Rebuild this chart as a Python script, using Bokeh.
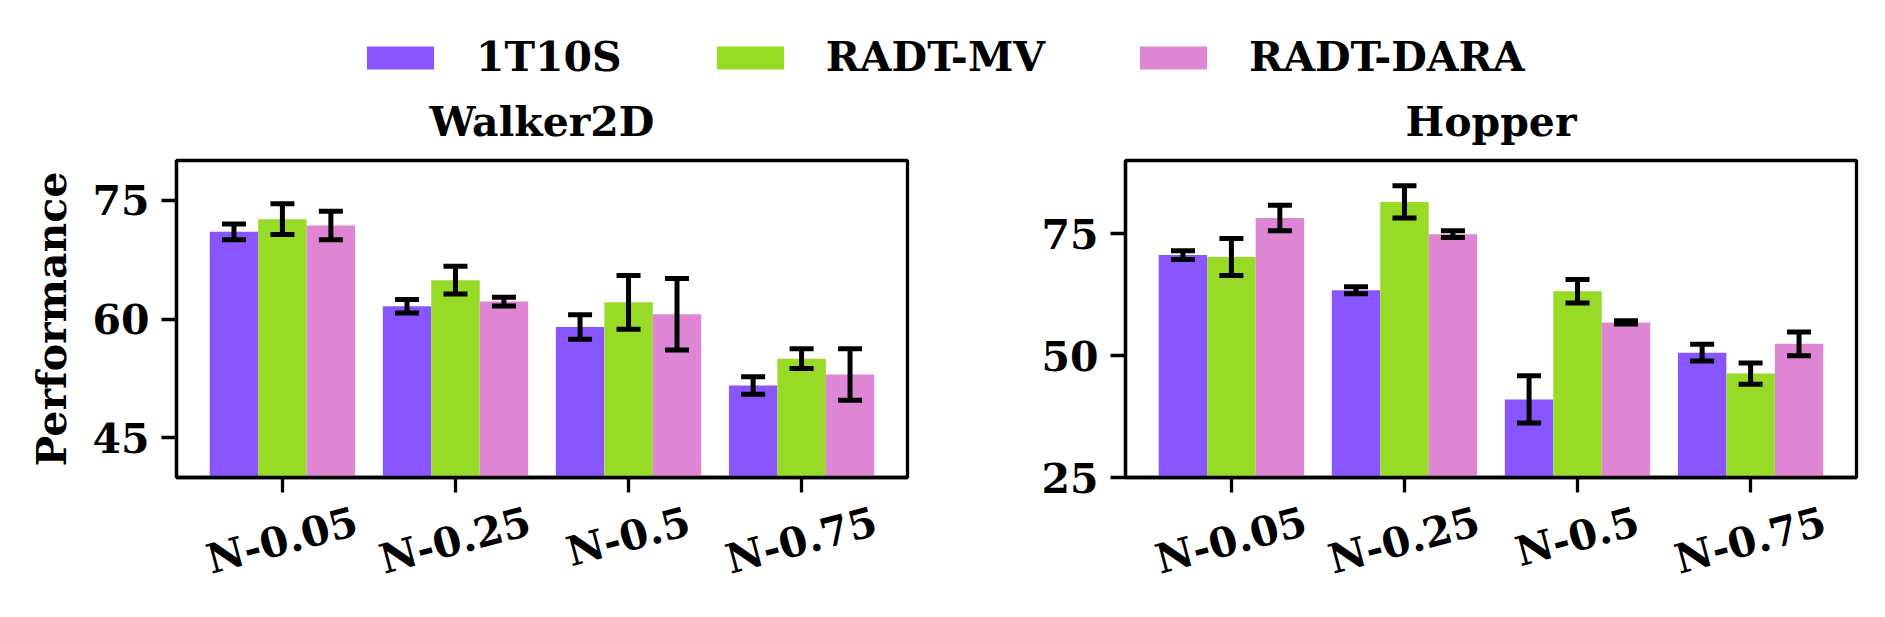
import math
from bokeh.plotting import figure
from bokeh.models import (ColumnDataSource, FixedTicker, Whisker, TeeHead,
                          Legend, LegendItem, Range1d, LinearAxis)
from bokeh.layouts import column, row
from bokeh.transform import dodge
from bokeh.embed import file_html
from bokeh.resources import INLINE

# ---------------- data ----------------
categories = ["N-0.05", "N-0.25", "N-0.5", "N-0.75"]
series_names = ["1T10S", "RADT-MV", "RADT-DARA"]
colors = ["#8855FF", "#97DB27", "#DE86D3"]

walker_1t10s = [71.0, 61.6, 59.0, 51.6]
walker_1t10s_err = [1.0, 0.85, 1.55, 1.1]
walker_mv = [72.6, 64.9, 62.1, 55.0]
walker_mv_err = [1.95, 1.75, 3.4, 1.25]
walker_dara = [71.8, 62.2, 60.6, 53.0]
walker_dara_err = [1.8, 0.55, 4.5, 3.25]

hopper_1t10s = [70.6, 63.4, 41.0, 50.6]
hopper_1t10s_err = [0.9, 0.7, 4.85, 1.7]
hopper_mv = [70.2, 81.5, 63.2, 46.3]
hopper_mv_err = [3.8, 3.3, 2.4, 2.2]
hopper_dara = [78.2, 74.9, 56.8, 52.4]
hopper_dara_err = [2.6, 0.7, 0.35, 2.45]

walker_yticks = [45, 60, 75]
hopper_yticks = [25, 50, 75]

FONT = "DejaVu Serif"
FSN = 41
FS = f"{FSN}px"
BAR_W = 0.28
LW = 3.3
FRAME_W = 731
XR = (-0.612, 3.612)
ANGLE = 15

# approximate advance widths (em) of DejaVu Serif Bold, used to centre rotated labels
_CW = {"N": 0.87, "-": 0.415, ".": 0.381}


def label_shift(txt):
    w = sum(_CW.get(c, 0.696) for c in txt) * FSN
    px_per_unit = FRAME_W / (XR[1] - XR[0])
    return (w / 2) * math.cos(math.radians(ANGLE)) / px_per_unit


def make_panel(title, yr, yticks, vals, errs, left_b, right_b, ylabel=None):
    p = figure(frame_width=FRAME_W, frame_height=317,
               x_range=Range1d(*XR), y_range=Range1d(*yr),
               output_backend="svg", toolbar_location=None,
               min_border_left=left_b, min_border_right=right_b,
               min_border_top=65, min_border_bottom=120)
    data = {"x": list(range(len(categories)))}
    for k in range(3):
        data[f"v{k}"] = vals[k]
        data[f"up{k}"] = [v + e for v, e in zip(vals[k], errs[k])]
        data[f"lo{k}"] = [v - e for v, e in zip(vals[k], errs[k])]
    src = ColumnDataSource(data)
    for k in range(3):
        off = (k - 1) * BAR_W
        p.vbar(x=dodge("x", off, range=p.x_range), top=f"v{k}", bottom=0,
               width=BAR_W, source=src, fill_color=colors[k], line_color=None)
    for k in range(3):
        off = (k - 1) * BAR_W
        w = Whisker(base=dodge("x", off, range=p.x_range), upper=f"up{k}", lower=f"lo{k}",
                    source=src, line_width=5, line_color="black", level="overlay",
                    upper_head=TeeHead(size=24, line_width=5, line_color="black"),
                    lower_head=TeeHead(size=24, line_width=5, line_color="black"))
        p.add_layout(w)

    p.title.text = title
    p.title.text_font = FONT
    p.title.text_font_size = FS
    p.title.text_font_style = "bold"
    p.title.text_color = "black"
    p.title.align = "center"
    p.title.standoff = 29

    p.xgrid.visible = False
    p.ygrid.visible = False
    p.outline_line_color = "black"
    p.outline_line_width = LW
    p.outline_line_alpha = 1

    p.xaxis.ticker = FixedTicker(ticks=list(range(len(categories))))
    p.xaxis.major_label_overrides = {i: "" for i in range(len(categories))}
    p.xaxis.major_label_text_font_size = "1px"
    p.xaxis.major_label_standoff = 0
    p.yaxis.ticker = FixedTicker(ticks=yticks)
    for ax in (p.xaxis[0], p.yaxis[0]):
        ax.axis_line_width = LW
        ax.major_tick_line_width = LW
        ax.major_tick_out = 15
        ax.major_tick_in = 0
        ax.minor_tick_line_color = None
    p.yaxis.major_label_text_font = FONT
    p.yaxis.major_label_text_font_size = FS
    p.yaxis.major_label_text_font_style = "bold"
    p.yaxis.major_label_text_color = "black"
    p.yaxis.major_label_standoff = 12
    if ylabel:
        p.yaxis.axis_label = ylabel
        p.yaxis.axis_label_text_font = FONT
        p.yaxis.axis_label_text_font_size = FS
        p.yaxis.axis_label_text_font_style = "bold"
        p.yaxis.axis_label_text_color = "black"
        p.yaxis.axis_label_standoff = 13

    # category labels, rotated, on a label-only axis
    pos = [round(i + label_shift(c), 4) for i, c in enumerate(categories)]
    lab = LinearAxis(ticker=FixedTicker(ticks=pos),
                     major_label_overrides={q: c for q, c in zip(pos, categories)},
                     major_label_orientation=math.radians(ANGLE),
                     axis_line_color=None, major_tick_line_color=None,
                     minor_tick_line_color=None, major_label_standoff=22,
                     major_label_text_font=FONT, major_label_text_font_size=FS,
                     major_label_text_font_style="bold", major_label_text_color="black")
    p.add_layout(lab, "below")
    return p


p1 = make_panel("Walker2D", (40, 80), walker_yticks,
                [walker_1t10s, walker_mv, walker_dara],
                [walker_1t10s_err, walker_mv_err, walker_dara_err],
                176, 20, ylabel="Performance")
p2 = make_panel("Hopper", (25, 90), hopper_yticks,
                [hopper_1t10s, hopper_mv, hopper_dara],
                [hopper_1t10s_err, hopper_mv_err, hopper_dara_err],
                198, 12)

# legend strip
lp = figure(width=1868, height=81, output_backend="svg", toolbar_location=None,
            x_range=Range1d(0, 1), y_range=Range1d(0, 1),
            x_axis_location=None, y_axis_location=None,
            min_border=0)
lp.xgrid.visible = False
lp.ygrid.visible = False
lp.outline_line_color = None
items = []
for name, c in zip(series_names, colors):
    r = lp.vbar(x=[-5], top=[-5], bottom=[-6], width=0.1, fill_color=c, line_color=None)
    items.append(LegendItem(label=name, renderers=[r]))
leg = Legend(items=items, orientation="horizontal", location=(358, 0),
             glyph_width=84, glyph_height=29, label_standoff=34, spacing=86,
             padding=0, margin=0, border_line_color=None, background_fill_alpha=0,
             label_text_font=FONT, label_text_font_size=FS, label_text_font_style="bold",
             label_text_color="black")
lp.add_layout(leg, "center")

layout = column(lp, row(p1, p2))
open("out.html", "w").write(file_html(layout, INLINE))
